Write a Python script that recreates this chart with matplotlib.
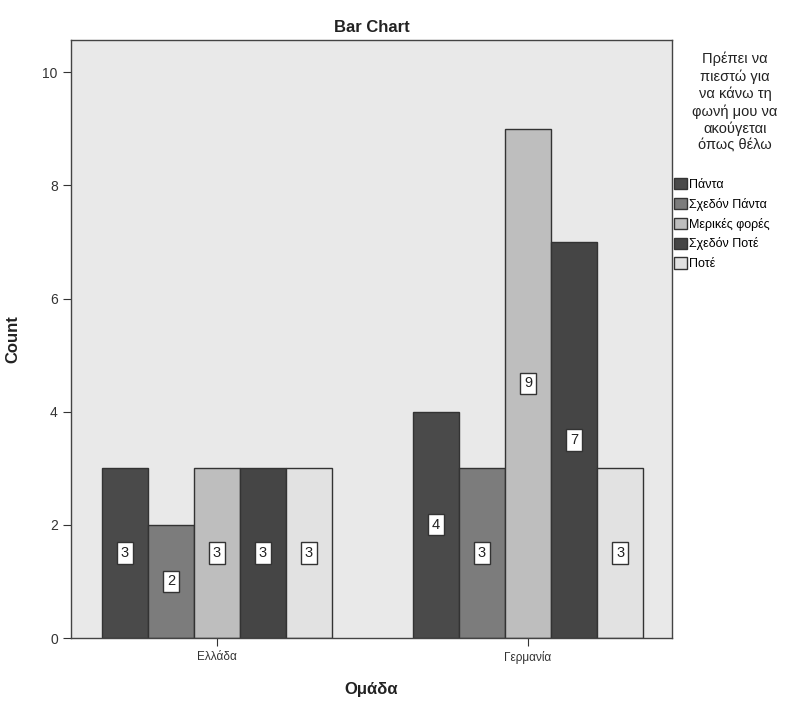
import matplotlib
matplotlib.use("Agg")
import matplotlib.pyplot as plt
from matplotlib.patches import Patch
import numpy as np

plt.rcParams['font.family'] = ['Liberation Sans', 'DejaVu Sans']

groups = ["Ελλάδα", "Γερμανία"]
responses = ["Πάντα", "Σχεδόν Πάντα", "Μερικές φορές", "Σχεδόν Ποτέ", "Ποτέ"]
counts = {
    "Πάντα": [3, 4],
    "Σχεδόν Πάντα": [2, 3],
    "Μερικές φορές": [3, 9],
    "Σχεδόν Ποτέ": [3, 7],
    "Ποτέ": [3, 3],
}
colors = ["#4a4a4a", "#7c7c7c", "#bebebe", "#454545", "#e2e2e2"]
legend_title = "Πρέπει να\nπιεστώ για\nνα κάνω τη\nφωνή μου να\nακούγεται\nόπως θέλω"

fig = plt.figure(figsize=(7.98, 7.06), dpi=100)
ax = fig.add_axes([71 / 798, 1 - 638 / 706, 601 / 798, 598 / 706])
ax.set_facecolor("#e9e9e9")

x = np.arange(len(groups))
width = 0.148
offsets = (np.arange(len(responses)) - 2) * width

for i, resp in enumerate(responses):
    vals = counts[resp]
    ax.bar(x + offsets[i], vals, width=width, color=colors[i],
           edgecolor="#333333", linewidth=1.0, zorder=2)
    for xi, v in zip(x + offsets[i], vals):
        ax.text(xi, v / 2, str(v), ha="center", va="center", fontsize=10.5,
                color="#222222", zorder=3,
                bbox=dict(boxstyle="square,pad=0.25", facecolor="white",
                          edgecolor="#333333", linewidth=1.0))

ax.set_xlim(-0.469, 1.463)
ax.set_ylim(0, 10.57)
ax.set_yticks([0, 2, 4, 6, 8, 10])
ax.set_xticks(x)
ax.set_xticklabels(groups, fontsize=8.5, color="#333333")
ax.tick_params(axis="y", labelsize=10, colors="#333333", length=6)
ax.tick_params(axis="x", length=6, colors="#333333")
for sp in ax.spines.values():
    sp.set_color("#444444")
    sp.set_linewidth(1.0)

ax.set_title("Bar Chart", fontsize=12, fontweight="bold", pad=6, color="#222222")
ax.set_ylabel("Count", fontsize=12, fontweight="bold", color="#222222")
ax.yaxis.set_label_coords(-51 / 601, 0.5)
ax.set_xlabel("Ομάδα", fontsize=12, fontweight="bold", color="#222222")
ax.xaxis.set_label_coords(0.5, -44 / 598)

handles = [Patch(facecolor=c, edgecolor="#333333", label=r) for c, r in zip(colors, responses)]
fig.text(735 / 798, 1 - 52 / 706, legend_title, ha="center", va="top",
         fontsize=10.5, color="#222222", linespacing=1.25)
leg = fig.legend(handles=handles, loc="upper left",
                 bbox_to_anchor=(674 / 798, 1 - 178 / 706), frameon=False,
                 fontsize=9, handlelength=1.0, handleheight=1.0,
                 handletextpad=0.2, labelspacing=0.55, borderpad=0.0,
                 borderaxespad=0.0)

fig.savefig("out.png", dpi=100)
